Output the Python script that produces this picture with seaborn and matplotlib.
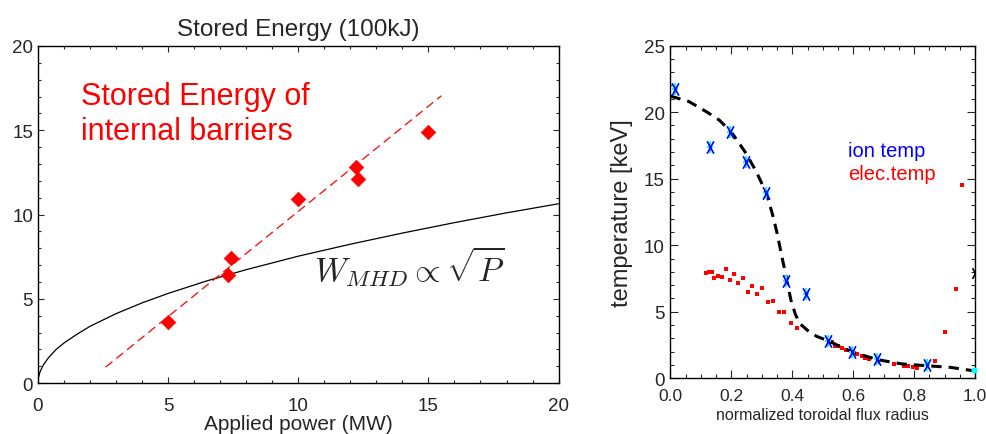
# Stored energy vs applied power, and temperature profiles
import matplotlib
matplotlib.use('Agg')
import matplotlib.pyplot as plt
from matplotlib.path import Path
from matplotlib.ticker import MultipleLocator
import seaborn as sns

# --- left panel data ---
power_mw = [5.0, 7.3, 7.4, 10.0, 12.2, 12.3, 15.0]
stored_energy = [3.6, 6.4, 7.4, 10.9, 12.8, 12.1, 14.9]

fit_power = [2.6, 15.5]
fit_energy = [0.95, 17.05]

mhd_power = [0, 0.02, 0.08, 0.2, 0.4, 0.7, 1, 1.5, 2, 3, 4, 5, 6.5, 8, 10, 12, 14, 16, 18, 20]
mhd_energy = [0, 0.34, 0.67, 1.06, 1.5, 2.0, 2.38, 2.9, 3.37, 4.12, 4.76, 5.32, 6.07,
              6.73, 7.53, 8.24, 8.9, 9.52, 10.1, 10.64]

# --- right panel data ---
ion_r = [0.015, 0.129, 0.195, 0.247, 0.313, 0.378, 0.444, 0.518, 0.595, 0.678, 0.841]
ion_t = [21.7, 17.35, 18.5, 16.25, 13.9, 7.3, 6.3, 2.8, 1.95, 1.45, 1.0]

elec_r = [0.116, 0.127, 0.135, 0.143, 0.156, 0.169, 0.182, 0.195, 0.209, 0.223, 0.239,
          0.254, 0.269, 0.285, 0.301, 0.319, 0.335, 0.355, 0.373, 0.395, 0.415,
          0.529, 0.540, 0.551, 0.562, 0.576, 0.600, 0.613, 0.628, 0.639, 0.653, 0.682,
          0.734, 0.765, 0.781, 0.795, 0.810, 0.869, 0.902, 0.938, 0.957]
elec_t = [7.9, 7.97, 7.97, 7.52, 7.67, 7.6, 8.2, 7.41, 7.82, 7.19, 7.52,
          6.47, 6.92, 6.34, 6.81, 5.71, 5.79, 4.96, 4.96, 4.16, 3.81,
          2.7, 2.4, 2.41, 2.28, 2.15, 1.95, 1.83, 1.65, 1.55, 1.45, 1.25,
          1.08, 0.95, 0.92, 0.88, 0.8, 1.3, 3.46, 6.71, 14.56]

fit_r = [0.0, 0.06, 0.12, 0.16, 0.2, 0.245, 0.28, 0.315, 0.335, 0.35, 0.365, 0.38,
         0.395, 0.41, 0.425, 0.45, 0.48, 0.52, 0.56, 0.6, 0.68, 0.76, 0.84, 0.92, 1.0]
fit_t = [21.2, 20.8, 20.0, 19.4, 18.5, 17.0, 15.6, 13.9, 12.3, 10.9, 9.2, 7.6,
         5.9, 4.8, 4.1, 3.6, 3.15, 2.8, 2.35, 1.95, 1.4, 1.08, 0.95, 0.82, 0.55]

edge_r = [0.997, 1.0]
edge_t = [0.62, 7.9]

sns.set_style('ticks')
plt.rcParams['font.family'] = ['Liberation Sans', 'DejaVu Sans']
plt.rcParams['mathtext.fontset'] = 'cm'

fig = plt.figure(figsize=(9.86, 4.35), dpi=100)
ax1 = fig.add_axes([0.0385, 0.117, 0.528, 0.775])
ax2 = fig.add_axes([0.680, 0.128, 0.309, 0.765])

# ---------------- left panel ----------------
sns.lineplot(x=mhd_power, y=mhd_energy, ax=ax1, color='black', linewidth=0.9,
             estimator=None, sort=False)
sns.lineplot(x=fit_power, y=fit_energy, ax=ax1, color='red', linewidth=0.9,
             linestyle=(0, (7, 4)), estimator=None, sort=False)
sns.scatterplot(x=power_mw, y=stored_energy, ax=ax1, marker='D', s=55,
                color='red', edgecolor='red', linewidth=0.5, zorder=5)

ax1.set_xlim(0, 20)
ax1.set_ylim(0, 20)
ax1.xaxis.set_major_locator(MultipleLocator(5))
ax1.xaxis.set_minor_locator(MultipleLocator(1))
ax1.yaxis.set_major_locator(MultipleLocator(5))
ax1.yaxis.set_minor_locator(MultipleLocator(1))
ax1.tick_params(which='both', direction='in', top=True, right=True, labelsize=13.5)
ax1.tick_params(which='major', length=4.5, width=0.8)
ax1.tick_params(which='minor', length=2.3, width=0.8)
ax1.tick_params(axis='x', pad=10)
ax1.set_title('Stored Energy (100kJ)', fontsize=17.5, pad=8)
ax1.set_xlabel('Applied power (MW)', fontsize=15, labelpad=0)

ax1.text(1.67, 17.95, 'Stored Energy of\ninternal barriers', color='red',
         fontsize=22, va='top', ha='left', linespacing=1.22)
ax1.text(10.6, 6.07, r'$W_{MHD} \propto \sqrt{P}$', fontsize=24,
         va='baseline', ha='left')

# ---------------- right panel ----------------
ion_cross = Path([(0, -1), (0, 1), (-0.6, 0), (0.6, 0)],
                 [Path.MOVETO, Path.LINETO, Path.MOVETO, Path.LINETO])
ion_x = Path([(-0.55, -1), (0.55, 1), (-0.55, 1), (0.55, -1)],
             [Path.MOVETO, Path.LINETO, Path.MOVETO, Path.LINETO])

sns.lineplot(x=fit_r, y=fit_t, ax=ax2, color='black', linewidth=2.2,
             linestyle=(0, (3.4, 2.3)), estimator=None, sort=False, zorder=3)
sns.scatterplot(x=elec_r, y=elec_t, ax=ax2, marker='s', s=11, color='red',
                linewidth=0, zorder=2)
sns.scatterplot(x=ion_r, y=ion_t, ax=ax2, marker=ion_cross, s=70, color='cyan',
                edgecolor='cyan', linewidth=1.4, zorder=4)
sns.scatterplot(x=ion_r, y=ion_t, ax=ax2, marker=ion_x, s=80, color='blue',
                edgecolor='blue', linewidth=1.2, zorder=5)
sns.scatterplot(x=edge_r[:1], y=edge_t[:1], ax=ax2, marker='o', s=20, color='cyan',
                linewidth=0, zorder=5, clip_on=False)
sns.scatterplot(x=edge_r[1:], y=edge_t[1:], ax=ax2, marker=ion_x, s=60, color='black',
                edgecolor='black', linewidth=1.2, zorder=5)

ax2.set_xlim(0, 1)
ax2.set_ylim(0, 25)
ax2.xaxis.set_major_locator(MultipleLocator(0.2))
ax2.xaxis.set_minor_locator(MultipleLocator(0.05))
ax2.yaxis.set_major_locator(MultipleLocator(5))
ax2.yaxis.set_minor_locator(MultipleLocator(1))
ax2.set_xticks([0, 0.2, 0.4, 0.6, 0.8, 1.0])
ax2.set_xticklabels(['0.0', '0.2', '0.4', '0.6', '0.8', '1.0'])
ax2.tick_params(which='both', direction='in', top=True, right=True)
ax2.tick_params(axis='x', labelsize=12.5, pad=7)
ax2.tick_params(axis='y', labelsize=13.5, pad=4)
ax2.tick_params(which='major', length=6, width=0.8)
ax2.tick_params(which='minor', length=3, width=0.8)
ax2.set_xlabel('normalized toroidal flux radius', fontsize=11.5, labelpad=3)
ax2.set_ylabel('temperature [keV]', fontsize=17, labelpad=8)

ax2.text(0.584, 16.73, 'ion temp', color='blue', fontsize=14.5, va='baseline')
ax2.text(0.584, 14.98, 'elec.temp', color='red', fontsize=14.5, va='baseline')

for ax in (ax1, ax2):
    for sp in ax.spines.values():
        sp.set_linewidth(1.0)
        sp.set_color('black')

fig.savefig('out.png', dpi=100)
